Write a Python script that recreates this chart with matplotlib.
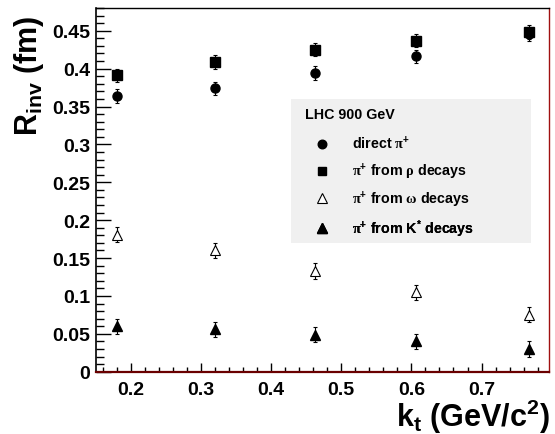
import matplotlib
matplotlib.use("Agg")
import matplotlib.pyplot as plt
from matplotlib.patches import Rectangle
from matplotlib.ticker import MultipleLocator, FormatStrFormatter

plt.rcParams['font.family'] = ['Liberation Sans', 'DejaVu Sans']
plt.rcParams['font.weight'] = 'bold'
plt.rcParams['mathtext.fontset'] = 'custom'
plt.rcParams['mathtext.rm'] = 'Liberation Sans:bold'
plt.rcParams['mathtext.it'] = 'Liberation Sans:bold'
plt.rcParams['mathtext.bf'] = 'Liberation Sans:bold'
plt.rcParams['mathtext.sf'] = 'Liberation Serif'

# --- data ---
kt = [0.18, 0.32, 0.463, 0.607, 0.767]

r_direct = [0.364, 0.374, 0.394, 0.416, 0.446]
e_direct = [0.009, 0.009, 0.009, 0.009, 0.009]

r_rho = [0.391, 0.409, 0.425, 0.437, 0.448]
e_rho = [0.009, 0.009, 0.009, 0.009, 0.009]

r_omega = [0.181, 0.160, 0.133, 0.105, 0.075]
e_omega = [0.010, 0.010, 0.010, 0.010, 0.010]

r_kstar = [0.060, 0.056, 0.049, 0.040, 0.030]
e_kstar = [0.010, 0.010, 0.010, 0.010, 0.010]

legend_title = "LHC 900 GeV"
labels = [r"direct $\mathsf{\pi}^{+}$",
          r"$\mathsf{\pi}^{+}$ from $\mathsf{\rho}$ decays",
          r"$\mathsf{\pi}^{+}$ from $\mathsf{\omega}$ decays",
          r"$\mathsf{\pi}^{+}$ from K$^{*}$ decays"]

fig = plt.figure(figsize=(5.55, 4.35), dpi=100)
ax = fig.add_axes([0.1724, 0.1432, 0.8162, 0.8361])

err_kw = dict(ls='none', color='black', ecolor='black', elinewidth=0.8,
              capsize=1.5, capthick=0.8)
h1 = ax.errorbar(kt, r_direct, yerr=e_direct, marker='o', ms=6.5, **err_kw)
h2 = ax.errorbar(kt, r_rho, yerr=e_rho, marker='s', ms=6.5, **err_kw)
h3 = ax.errorbar(kt, r_omega, yerr=e_omega, marker='^', ms=7.5, mfc='white',
                 mec='black', mew=0.8, **err_kw)
h4 = ax.errorbar(kt, r_kstar, yerr=e_kstar, marker='^', ms=7.5, **err_kw)

ax.set_xlim(0.15, 0.7957)
ax.set_ylim(0, 0.48)

ax.xaxis.set_major_locator(MultipleLocator(0.1))
ax.xaxis.set_minor_locator(MultipleLocator(0.02))
ax.yaxis.set_major_locator(MultipleLocator(0.05))
ax.yaxis.set_minor_locator(MultipleLocator(0.01))
ax.xaxis.set_major_formatter(FormatStrFormatter('%g'))
ax.yaxis.set_major_formatter(FormatStrFormatter('%g'))

ax.tick_params(axis='x', which='major', direction='in', length=6.5, width=1,
               labelsize=14, pad=7, top=False)
ax.tick_params(axis='x', which='minor', direction='in', length=3.5, width=1,
               top=False)
ax.tick_params(axis='y', which='major', direction='in', length=10.5, width=1,
               labelsize=14, pad=4, right=False)
ax.tick_params(axis='y', which='minor', direction='in', length=5.5, width=1,
               right=False)
for lab in ax.get_xticklabels() + ax.get_yticklabels():
    lab.set_fontweight('bold')

ax.spines['left'].set_linewidth(1.2)
ax.spines['top'].set_linewidth(1.0)
ax.spines['right'].set_color('#a01010')
ax.spines['right'].set_linewidth(1.0)
ax.spines['bottom'].set_color('#6a0000')
ax.spines['bottom'].set_linewidth(1.6)

# axis titles, ROOT style (aligned to the axis ends)
fig.text(0.052, 0.965, r"R$_{inv}$ (fm)", rotation=90, ha='center', va='top',
         fontsize=22, fontweight='bold')
fig.text(0.991, 0.018, r"k$_{t}$ (GeV/c$^{2}$)", ha='right', va='baseline',
         fontsize=22, fontweight='bold')

# legend box, title and one row per entry (markers only, no error bars)
ax.add_patch(Rectangle((0.431, 0.354), 0.53, 0.396, transform=ax.transAxes,
                       facecolor='#f0f0f0', edgecolor='none', zorder=0))
ax.text(0.462, 0.7086, legend_title, transform=ax.transAxes, ha='left',
        va='center', fontsize=10.3, fontweight='bold')
row_y = [0.6286, 0.551, 0.4749, 0.3943]
for h, lab, yy in zip([h1, h2, h3, h4], labels, row_y):
    leg = ax.legend([h[0]], [lab], loc='center left',
                    bbox_to_anchor=(0.4835, yy), frameon=False, fontsize=10.3,
                    handlelength=1.0, handletextpad=1.6, markerscale=0.95,
                    numpoints=1, borderpad=0.0, borderaxespad=0.0)
    for t in leg.get_texts():
        t.set_fontweight('bold')
    ax.add_artist(leg)

fig.savefig('out.png', dpi=100)
